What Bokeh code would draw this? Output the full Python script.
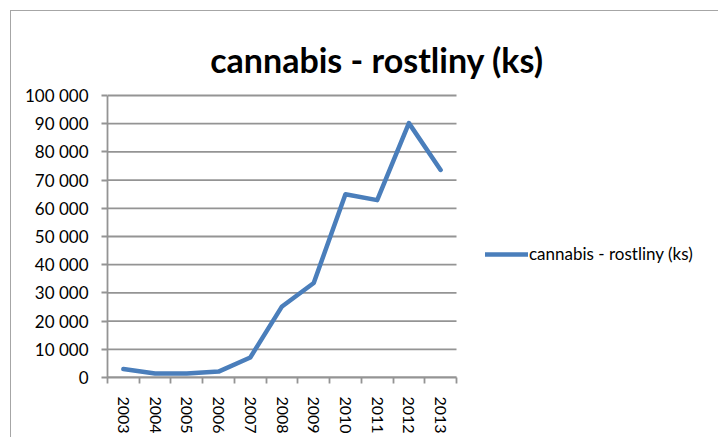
from bokeh.plotting import figure
from bokeh.models import (Range1d, FixedTicker, Legend, LegendItem, ColumnDataSource,
                          CustomJSTickFormatter, Label)
from bokeh.embed import file_html
from bokeh.resources import INLINE

# ---- data ----
years = [2003, 2004, 2005, 2006, 2007, 2008, 2009, 2010, 2011, 2012, 2013]
values = [3000, 1400, 1400, 2100, 7100, 25200, 33500, 65000, 62900, 90200, 73600]
y_ticks = [0, 10000, 20000, 30000, 40000, 50000, 60000, 70000, 80000, 90000, 100000]
y_tick_labels = ["0", "10 000", "20 000", "30 000", "40 000", "50 000",
                 "60 000", "70 000", "80 000", "90 000", "100 000"]
title_text = "cannabis - rostliny (ks)"
series_name = "cannabis - rostliny (ks)"

FONT = "Lato"
GRID = "#949494"
LINE = "#4a7ebb"

# ---- layout (pixels) ----
W, H = 718, 437
LEFT, FRAME_TOP, PLOT_TOP, PLOT_BOTTOM = 107, 12, 95, 377
PLOT_W = 349                       # width of the category area
frame_w = W - LEFT
x0 = years[0] - 0.5
x1 = years[-1] + 0.5
x_per_px = (x1 - x0) / PLOT_W
y_per_px = (y_ticks[-1] - y_ticks[0]) / (PLOT_BOTTOM - PLOT_TOP)
x_end = x0 + frame_w * x_per_px
y_end = y_ticks[0] + (PLOT_BOTTOM - FRAME_TOP) * y_per_px

src = ColumnDataSource(dict(year=years, value=values))
grid_src = ColumnDataSource(dict(y=y_ticks, xs=[x0] * len(y_ticks), xe=[x1] * len(y_ticks)))

p = figure(width=W, height=H, output_backend="svg", toolbar_location=None,
           x_range=Range1d(x0, x_end), y_range=Range1d(y_ticks[0], y_end),
           min_border_left=LEFT, min_border_right=0, min_border_top=FRAME_TOP,
           min_border_bottom=H - PLOT_BOTTOM)
# chart-area frame line (top and left), drawn behind a transparent canvas
p.styles = {"box-shadow": "inset 10px 10px 0 0 white, inset 11px 11px 0 0 #a6a6a6"}
p.outline_line_color = None
p.background_fill_alpha = 0
p.border_fill_alpha = 0

# title
p.add_layout(Label(x=x0 + (376.5 - LEFT) * x_per_px, y=(PLOT_BOTTOM - 59) * y_per_px,
                   text=title_text, text_align="center", text_baseline="alphabetic",
                   text_font=FONT, text_font_style="bold", text_font_size="34px",
                   text_color="black"))

# horizontal gridlines over the category area only
p.segment(x0="xs", x1="xe", y0="y", y1="y", source=grid_src,
          line_color=GRID, line_width=1.8)

# x axis: labels at category centres, tick marks at boundaries
p.xaxis.ticker = FixedTicker(ticks=years,
                             minor_ticks=[y - 0.5 for y in years] + [years[-1] + 0.5])
p.xaxis.bounds = (x0, x1)
p.xaxis.formatter = CustomJSTickFormatter(code="return String(Math.round(tick));")
p.xaxis.major_label_orientation = "vertical"
p.xaxis.major_tick_out = 0
p.xaxis.major_tick_in = 0
p.xaxis.minor_tick_out = 6
p.xaxis.minor_tick_in = 0
p.xaxis.minor_tick_line_color = GRID
p.xaxis.minor_tick_line_width = 1.8
p.xaxis.major_label_standoff = 13
p.xaxis.axis_label_standoff = 0
p.xaxis.axis_line_color = GRID
p.xaxis.axis_line_width = 1.8
p.xaxis.major_label_text_font_size = "16px"

# y axis
p.yaxis.ticker = FixedTicker(ticks=y_ticks, minor_ticks=[])
p.yaxis.bounds = (y_ticks[0], y_ticks[-1])
p.yaxis.major_label_overrides = {t: l for t, l in zip(y_ticks, y_tick_labels)}
p.yaxis.major_tick_out = 6
p.yaxis.major_tick_in = 0
p.yaxis.major_tick_line_color = GRID
p.yaxis.major_tick_line_width = 1.8
p.yaxis.major_label_standoff = 13
p.yaxis.axis_label_standoff = 0
p.yaxis.axis_line_color = GRID
p.yaxis.axis_line_width = 1.8
p.yaxis.major_label_text_font_size = "17px"

for ax in (p.xaxis, p.yaxis):
    ax.major_label_text_font = FONT
    ax.major_label_text_color = "black"

p.xgrid.grid_line_color = None
p.ygrid.grid_line_color = None

r = p.line("year", "value", source=src, line_color=LINE, line_width=4.5,
           line_join="round", line_cap="round")

legend = Legend(items=[LegendItem(label=series_name, renderers=[r])],
                location=(378, 113), border_line_color=None, background_fill_alpha=0,
                padding=0, margin=0, glyph_width=43, glyph_height=20, label_height=20,
                label_standoff=1, label_text_font=FONT, label_text_font_size="17px",
                label_text_color="black")
p.add_layout(legend, "center")

open("out.html", "w").write(file_html(p, INLINE))
